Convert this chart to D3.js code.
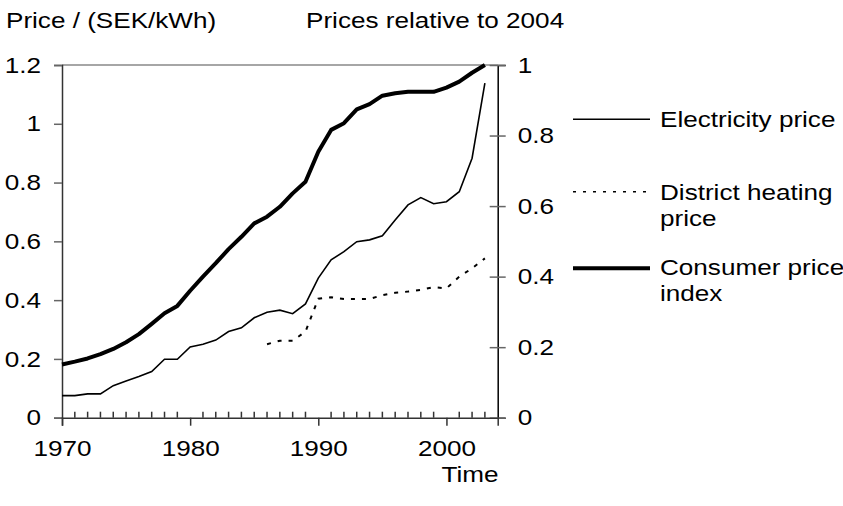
<!DOCTYPE html>
<html><head><meta charset="utf-8">
<script src="https://cdn.jsdelivr.net/npm/d3@7"></script>
<style>
body{margin:0;background:#fff;}
text{font-family:"Liberation Sans",Arial,sans-serif;fill:#000;}
</style></head>
<body>
<svg id="c" width="843" height="506"></svg>
<script>
const years = [1970,1971,1972,1973,1974,1975,1976,1977,1978,1979,1980,1981,1982,1983,1984,1985,1986,1987,1988,1989,1990,1991,1992,1993,1994,1995,1996,1997,1998,1999,2000,2001,2002,2003];
const electricity = [0.075,0.075,0.081,0.081,0.109,0.125,0.140,0.157,0.199,0.199,0.241,0.250,0.264,0.293,0.306,0.340,0.359,0.366,0.354,0.387,0.475,0.537,0.565,0.599,0.605,0.619,0.673,0.724,0.749,0.728,0.735,0.769,0.883,1.138];
const cpi = [0.151,0.159,0.168,0.180,0.195,0.214,0.237,0.266,0.296,0.317,0.360,0.400,0.438,0.478,0.513,0.551,0.570,0.598,0.636,0.669,0.754,0.816,0.835,0.874,0.889,0.913,0.920,0.924,0.924,0.924,0.936,0.953,0.978,1.000];
const dhYears = [1986,1987,1988,1989,1990,1991,1992,1993,1994,1995,1996,1997,1998,1999,2000,2001,2002,2003];
const districtHeating = [0.250,0.262,0.262,0.293,0.405,0.410,0.404,0.404,0.404,0.417,0.425,0.429,0.435,0.444,0.440,0.480,0.508,0.542];
const leftTicks = [0,0.2,0.4,0.6,0.8,1,1.2];
const rightTicks = [0,0.2,0.4,0.6,0.8,1];
const xMajor = [1970,1980,1990,2000];
const legendLabels = [["Electricity price"],["District heating","price"],["Consumer price","index"]];

const svg = d3.select("#c");
const L=62, R=497.7, T=65, B=417.7;
const x = d3.scaleLinear().domain([1970,2004]).range([L,R]);
const yL = d3.scaleLinear().domain([0,1.2]).range([B,T]);
const yR = d3.scaleLinear().domain([0,1]).range([B,T]);
const FS = 22.5, SX = 1.16;

function stretch(sel){
  sel.each(function(){
    const t = d3.select(this);
    const tx = +t.attr("x") || 0, ty = +t.attr("y") || 0;
    t.attr("transform",`translate(${tx},${ty}) scale(${SX},1) translate(${-tx},${-ty})`);
  });
}

// top border
svg.append("line").attr("x1",L).attr("x2",R).attr("y1",T).attr("y2",T).attr("stroke","#888").attr("stroke-width",1.5);

// left axis
const gl = svg.append("g").attr("transform",`translate(${L},0)`)
  .call(d3.axisLeft(yL).tickValues(leftTicks).tickSize(8).tickPadding(13).tickFormat(d=>d3.format("~g")(d)));
gl.select(".domain").attr("stroke","#333").attr("stroke-width",1.5);
gl.selectAll(".tick line").attr("stroke","#666").attr("stroke-width",1.5);
gl.selectAll("text").attr("font-size",FS).style("font-family","Liberation Sans, Arial").call(stretch);

// right axis
const gr = svg.append("g").attr("transform",`translate(${R},0)`)
  .call(d3.axisRight(yR).tickValues(rightTicks).tickSize(8).tickPadding(12).tickFormat(d=>d3.format("~g")(d)));
gr.select(".domain").attr("stroke","#000").attr("stroke-width",1.5);
gr.selectAll(".tick line").attr("x1",-8).attr("stroke","#666").attr("stroke-width",1.5);
gr.selectAll("text").attr("font-size",FS).style("font-family","Liberation Sans, Arial").call(stretch);

// bottom axis: minor ticks inside, major outside
const minorYears = d3.range(1971,2004).filter(v=>xMajor.indexOf(v)<0);
svg.append("g").selectAll("line").data(minorYears).join("line")
  .attr("x1",d=>x(d)).attr("x2",d=>x(d)).attr("y1",B).attr("y2",B-6).attr("stroke","#333").attr("stroke-width",1.5);
const gb = svg.append("g").attr("transform",`translate(0,${B})`)
  .call(d3.axisBottom(x).tickValues(xMajor).tickSize(8).tickPadding(14).tickFormat(d3.format("d")));
gb.select(".domain").attr("stroke","#333").attr("stroke-width",1.5);
gb.selectAll(".tick line").attr("stroke","#333").attr("stroke-width",1.5);
gb.selectAll("text").attr("font-size",FS).style("font-family","Liberation Sans, Arial").call(stretch);

// lines
const lineE = d3.line().x((d,i)=>x(years[i])).y(d=>yL(d));
const lineC = d3.line().x((d,i)=>x(years[i])).y(d=>yR(d));
const lineD = d3.line().x((d,i)=>x(dhYears[i])).y(d=>yL(d));
svg.append("path").datum(electricity).attr("d",lineE).attr("fill","none").attr("stroke","#000").attr("stroke-width",1.6);
svg.append("path").datum(districtHeating).attr("d",lineD).attr("fill","none").attr("stroke","#000").attr("stroke-width",2).attr("stroke-dasharray","4,7");
svg.append("path").datum(cpi).attr("d",lineC).attr("fill","none").attr("stroke","#000").attr("stroke-width",4).attr("stroke-linejoin","round");

// titles
svg.append("text").attr("x",6).attr("y",28).attr("font-size",FS).text("Price / (SEK/kWh)").call(stretch);
svg.append("text").attr("x",306).attr("y",28).attr("font-size",FS).text("Prices relative to 2004").call(stretch);
svg.append("text").attr("x",470).attr("y",482).attr("text-anchor","middle").attr("font-size",FS).text("Time").call(stretch);

// legend
const legY = [119.3,191.7,268.3];
const legStyles = [{w:1.6,d:null},{w:1.5,d:"3,7"},{w:4,d:null}];
const textBase = [[127],[200,226],[275,301]];
legendLabels.forEach((lab,i)=>{
  const l = svg.append("line").attr("x1",573).attr("x2",650).attr("y1",legY[i]).attr("y2",legY[i])
    .attr("stroke","#000").attr("stroke-width",legStyles[i].w);
  if(legStyles[i].d) l.attr("stroke-dasharray",legStyles[i].d);
  lab.forEach((t,j)=>{
    svg.append("text").attr("x",660).attr("y",textBase[i][j]).attr("font-size",FS).text(t).call(stretch);
  });
});
</script>
</body></html>
